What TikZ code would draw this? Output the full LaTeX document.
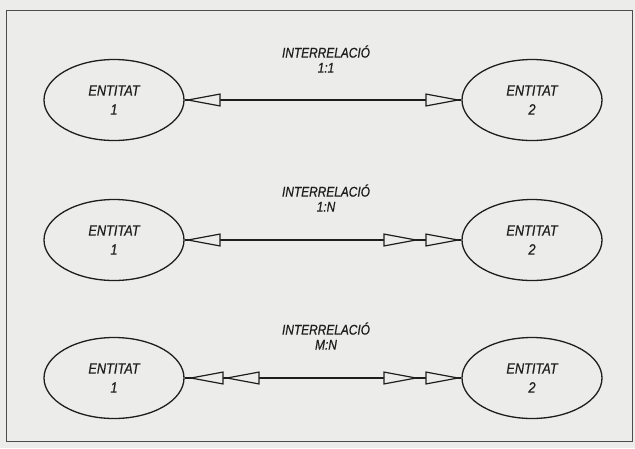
\documentclass[tikz,border=0pt]{standalone}
\usepackage{fontspec}
\newfontfamily\narrowfont[FakeStretch=0.85,FakeBold=0.7]{Liberation Sans}
\usetikzlibrary{arrows.meta,shapes.geometric}
\definecolor{paper}{HTML}{ECECEA}
\definecolor{ink}{HTML}{1E1E1E}
\tikzset{
  entity/.style={ellipse, draw=ink, line width=1.3pt, minimum width=140pt, minimum height=81pt, inner sep=0pt,
    align=center, font=\narrowfont\itshape\fontsize{15}{19}\selectfont, text=ink},
  relabel/.style={align=center, inner sep=0pt, font=\narrowfont\itshape\fontsize{14}{15}\selectfont, text=ink},
  tri/.tip={Triangle[length=36pt, width=13pt, line width=1.2pt, fill=paper]},
  link/.style={draw=ink, line width=1.3pt, preaction={draw=ink, line width=1.3pt, arrows=-}}
}
\begin{document}
\begin{tikzpicture}[x=1pt,y=-1pt]
\useasboundingbox (0,0) rectangle (635,448);
\fill[paper] (0,0) rectangle (635,448);
\draw[gray!60!black, line width=0.9pt] (6,10) rectangle (632,441);
% row 1
\node[entity] (a1) at (114,100) {ENTITAT\\1};
\node[entity] (b1) at (532,100) {ENTITAT\\2};
\node[relabel] (r1) at (326,59) {INTERRELACIÓ\\1:1};
\draw[link, {tri}-{tri}] (a1) -- (b1);
% row 2
\node[entity] (a2) at (114,240) {ENTITAT\\1};
\node[entity] (b2) at (532,240) {ENTITAT\\2};
\node[relabel] (r2) at (326,198) {INTERRELACIÓ\\1:N};
\draw[link, {tri}-{tri[sep=6pt]tri}] (a2) -- (b2);
% row 3
\node[entity] (a3) at (114,378) {ENTITAT\\1};
\node[entity] (b3) at (532,378) {ENTITAT\\2};
\node[relabel] (r3) at (326,336) {INTERRELACIÓ\\M:N};
\draw[link, {tri[sep=3pt]tri}-{tri[sep=6pt]tri}] (a3) -- (b3);
\end{tikzpicture}
\end{document}
